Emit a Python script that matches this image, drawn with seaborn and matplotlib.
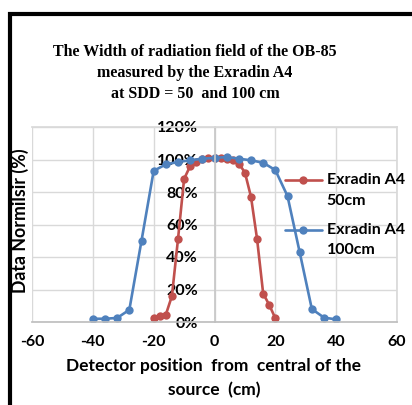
import matplotlib
matplotlib.use("Agg")
import matplotlib.pyplot as plt
import seaborn as sns
import pandas as pd
from matplotlib.patches import Rectangle

# ---- data ----
x_50 = [-20, -18, -16, -14, -12, -10, -8, -6, -4, -2, 0, 2, 4, 6, 8, 10, 12, 14, 16, 18, 20]
y_50 = [2.7, 3.5, 4.5, 16, 51, 88, 96, 98.5, 100.5, 101, 101, 101, 100.5, 99.5, 97.5, 92, 77, 51, 17.5, 10.5, 2.3]
x_100 = [-40, -36, -32, -28, -24, -20, -16, -12, -8, -4, 0, 4, 8, 12, 16, 20, 24, 28, 32, 36, 40]
y_100 = [2, 2, 2.5, 7.5, 50, 93, 97, 98.5, 99.5, 100.5, 101, 101.5, 100.5, 99.5, 98, 93.5, 77.5, 43, 8, 2.7, 1.6]
series_names = ["Exradin A4\n50cm", "Exradin A4\n100cm"]
x_ticks = [-60, -40, -20, 0, 20, 40, 60]
y_ticks = [0, 20, 40, 60, 80, 100, 120]
title = "The Width of radiation field of the OB-85\nmeasured by the Exradin A4\nat SDD = 50  and 100 cm"
x_label = "Detector position  from  central of the\nsource  (cm)"
y_label = "Data Normilsir (%)"

df = pd.concat([
    pd.DataFrame({"x": x_50, "y": y_50, "series": series_names[0]}),
    pd.DataFrame({"x": x_100, "y": y_100, "series": series_names[1]}),
], ignore_index=True)

sns.set_theme(style="white")
plt.rcParams['font.family'] = ['Lato', 'DejaVu Sans']
plt.rcParams['text.color'] = 'black'
plt.rcParams['xtick.color'] = 'black'
plt.rcParams['ytick.color'] = 'black'

W, H = 412, 405
fig = plt.figure(figsize=(W / 100, H / 100), dpi=100)
ax = fig.add_axes([32 / W, 1 - 322 / H, (397 - 32) / W, (322 - 127) / H])

palette = {series_names[0]: "#C0504D", series_names[1]: "#4F81BD"}
sns.lineplot(data=df, x="x", y="y", hue="series", palette=palette, marker="o",
             markersize=6, markeredgewidth=0, linewidth=1.9, sort=False, ax=ax,
             legend=True)

ax.spines["left"].set_position(("data", 0))
ax.set_xlim(-60, 60)
ax.set_ylim(0, 120)
ax.set_xticks(x_ticks)
ax.set_yticks(y_ticks)
ax.set_xticklabels([str(v) for v in x_ticks])
ax.set_yticklabels([f"{v}%" for v in y_ticks])
ax.grid(True, color="#d9d9d9", linewidth=1)
ax.set_axisbelow(True)
for s in ["top", "right"]:
    ax.spines[s].set_visible(True)
    ax.spines[s].set_color("#d9d9d9")
ax.spines["left"].set_color("#c8c8c8")
ax.spines["bottom"].set_color("#bfbfbf")
ax.tick_params(axis="y", length=0, pad=12, labelcolor="black", labelsize=11.5)
ax.tick_params(axis="x", length=0, pad=9, labelcolor="black", labelsize=11.5)
for lab in ax.get_xticklabels() + ax.get_yticklabels():
    lab.set_fontweight("bold")
ax.set_xlabel("")
ax.set_ylabel("")

leg = ax.legend(loc="upper left", bbox_to_anchor=(285 / W, 1 - 173 / H),
                bbox_transform=fig.transFigure, frameon=False,
                prop={"family": "Lato", "weight": "bold", "size": 11.5},
                handlelength=2.3, handletextpad=0.3, labelspacing=0.95,
                borderaxespad=0, borderpad=0)
for t in leg.get_texts():
    t.set_linespacing(1.6)
    t.set_color("black")
for h in leg.legend_handles:
    yd = h.get_ydata()
    h.set_ydata([v + 7.5 for v in yd])

fig.text(195 / W, 1 - 73 / H, title, ha="center", va="center", fontsize=11.5,
         fontweight="bold", family="Liberation Serif", linespacing=1.4)
fig.text(214 / W, 1 - 378 / H, x_label, ha="center", va="center", fontsize=12.5,
         fontweight="bold", linespacing=1.55)
fig.text(20 / W, 1 - 221 / H, y_label, ha="center", va="center", rotation=90,
         fontsize=12.8, fontweight="bold")

fig.add_artist(Rectangle((10 / W, -0.5), 2.0, 0.5 + 1 - 14 / H, transform=fig.transFigure,
                         fill=False, edgecolor="black", linewidth=3, clip_on=False))

fig.savefig("out.png", dpi=100)
